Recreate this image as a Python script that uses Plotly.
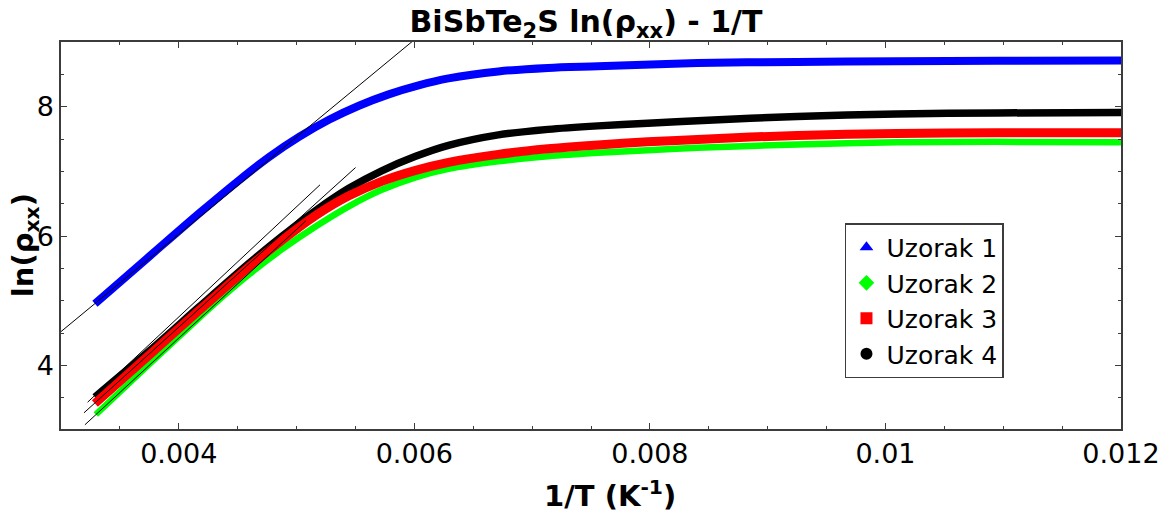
import plotly.graph_objects as go

# ---- data ----
x1 = [0.003288, 0.003753, 0.004175, 0.004514, 0.004767, 0.005021, 0.005275, 0.005529, 0.005782, 0.006036,
      0.006290, 0.006713, 0.007135, 0.007558, 0.008404, 0.009250, 0.010095, 0.010941, 0.012]
y1 = [4.957, 5.691, 6.355, 6.867, 7.224, 7.534, 7.798, 8.015, 8.191, 8.330,
      8.437, 8.545, 8.600, 8.625, 8.676, 8.691, 8.704, 8.710, 8.715]

x2 = [0.003296, 0.003753, 0.004175, 0.004387, 0.004598, 0.004877, 0.005165, 0.005444, 0.005723, 0.006011,
      0.006290, 0.006713, 0.007135, 0.007558, 0.007981, 0.008404, 0.009250, 0.010095, 0.010941, 0.012]
y2 = [3.244, 4.031, 4.741, 5.088, 5.412, 5.798, 6.153, 6.461, 6.716, 6.909,
      7.040, 7.156, 7.233, 7.287, 7.329, 7.364, 7.418, 7.449, 7.457, 7.452]

x3 = [0.003288, 0.003753, 0.004175, 0.004598, 0.004877, 0.005165, 0.005444, 0.005723, 0.006011,
      0.006290, 0.006713, 0.007135, 0.007558, 0.007981, 0.008404, 0.009250, 0.010095, 0.010941, 0.012]
y3 = [3.414, 4.170, 4.856, 5.528, 5.937, 6.323, 6.623, 6.847, 7.017,
      7.140, 7.264, 7.349, 7.410, 7.457, 7.495, 7.557, 7.588, 7.596, 7.596]

x4 = [0.003288, 0.003753, 0.004175, 0.004598, 0.004877, 0.005165, 0.005444, 0.005723, 0.006011,
      0.006290, 0.006713, 0.007135, 0.007558, 0.007981, 0.008404, 0.009250, 0.010095, 0.010941, 0.012]
y4 = [3.514, 4.231, 4.910, 5.582, 5.998, 6.400, 6.739, 7.009, 7.233,
      7.403, 7.565, 7.650, 7.704, 7.745, 7.784, 7.850, 7.889, 7.904, 7.909]

# linear fits (thin black lines)
fit1_x = [0.0030, 0.0060]
fit1_y = [4.525, 9.035]
fit2_x = [0.003203, 0.00508]
fit2_y = [3.085, 6.238]
fit3_x = [0.003195, 0.005501]
fit3_y = [3.270, 7.060]
fit4_x = [0.003226, 0.005199]
fit4_y = [3.434, 6.793]

x_tickvals = [0.004, 0.006, 0.008, 0.010, 0.012]
x_ticktext = ["0.004", "0.006", "0.008", "0.01", "0.012"]
y_tickvals = [4, 6, 8]
y_ticktext = ["4", "6", "8"]

names = ["Uzorak 1", "Uzorak 2", "Uzorak 3", "Uzorak 4"]
colors = ["#0000FF", "#00FF00", "#FF0000", "#000000"]
symbols = ["triangle-up", "diamond", "square", "circle"]
widths = [8, 6.5, 9, 7.5]

FONT = "DejaVu Sans"
AXC = "#3c3c3c"

fig = go.Figure()

series = [(x1, y1), (x2, y2), (x4, y4), (x3, y3)]
order = [0, 1, 3, 2]
for (xs, ys), i in zip(series, order):
    fig.add_trace(go.Scatter(x=xs, y=ys, mode="lines",
                             line=dict(color=colors[i], width=widths[i], shape="spline", smoothing=0.8),
                             showlegend=False, hoverinfo="skip"))

for fx, fy in [(fit1_x, fit1_y), (fit2_x, fit2_y), (fit3_x, fit3_y), (fit4_x, fit4_y)]:
    fig.add_trace(go.Scatter(x=fx, y=fy, mode="lines", line=dict(color="black", width=1),
                             showlegend=False, hoverinfo="skip"))

# legend entries
for i in range(4):
    fig.add_trace(go.Scatter(x=[None], y=[None], mode="markers", name=names[i],
                             marker=dict(color=colors[i], symbol=symbols[i], size=5)))

axis_common = dict(
    showline=True, linecolor=AXC, linewidth=1.5, mirror="allticks",
    ticks="inside", ticklen=6, tickwidth=1.2, tickcolor=AXC,
    showgrid=False, zeroline=False,
    tickfont=dict(family=FONT, size=27, color="black"),
)

fig.update_xaxes(range=[0.003, 0.012], tickmode="array", tickvals=x_tickvals, ticktext=x_ticktext,
                 minor=dict(dtick=0.0005, tick0=0, ticks="inside", ticklen=3.5, tickcolor=AXC, tickwidth=1),
                 **axis_common)
fig.update_yaxes(range=[3.02, 9.0], tickmode="array", tickvals=y_tickvals, ticktext=y_ticktext,
                 minor=dict(dtick=0.5, tick0=0, ticks="inside", ticklen=3.5, tickcolor=AXC, tickwidth=1),
                 **axis_common)

fig.update_layout(
    width=1172, height=513,
    margin=dict(l=61, r=44, t=42, b=84),
    paper_bgcolor="white", plot_bgcolor="white",
    title=dict(text="<b>BiSbTe<sub>2</sub>S ln(ρ<sub>xx</sub>) - 1/T</b>", x=0.5, xref="container",
               y=1 - 21 / 513, yref="container", xanchor="center", yanchor="middle",
               font=dict(family=FONT, size=30, color="black")),
    legend=dict(x=0.7396, y=0.532, xanchor="left", yanchor="top",
                bgcolor="white", bordercolor=AXC, borderwidth=1.5,
                font=dict(family=FONT, size=25, color="black"),
                itemsizing="constant"),
    annotations=[
        dict(text="<b>1/T (K<sup>-1</sup>)</b>", xref="paper", yref="paper", x=0.518, y=-0.168,
             xanchor="center", yanchor="middle", showarrow=False,
             font=dict(family=FONT, size=29, color="black")),
        dict(text="<b>ln(ρ<sub>xx</sub>)</b>", xref="paper", yref="paper", x=-0.034, y=0.475,
             xanchor="center", yanchor="middle", showarrow=False, textangle=-90,
             font=dict(family=FONT, size=29, color="black")),
    ],
)

fig.write_html("out.html", config={"displayModeBar": False},
               post_script="document.body.style.margin='0px';")
